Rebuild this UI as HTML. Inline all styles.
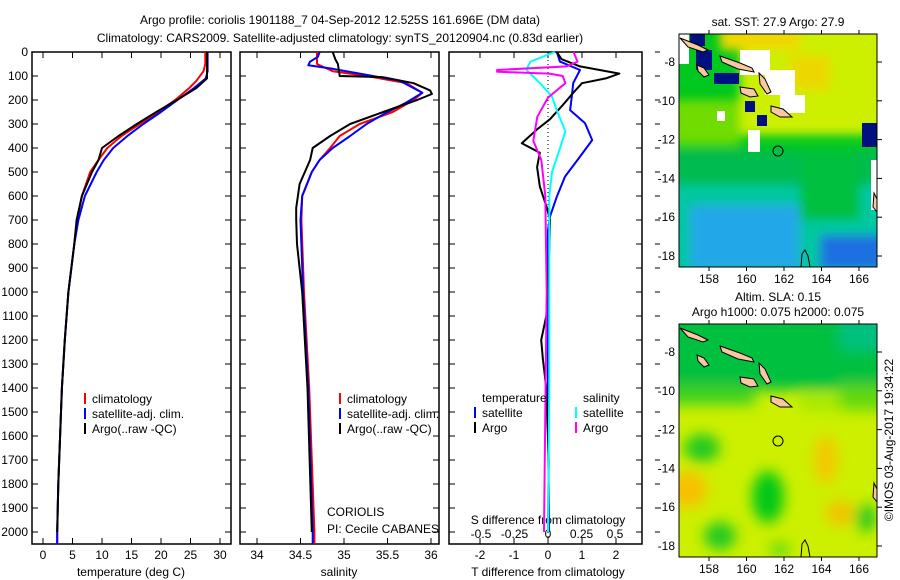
<!DOCTYPE html>
<html><head><meta charset="utf-8"><style>
html,body{margin:0;padding:0;background:#fff}
svg{display:block}
text{font-family:"Liberation Sans",sans-serif;font-size:12px;fill:#000}
</style></head><body>
<svg id="fig" width="900" height="580" viewBox="0 0 900 580">
<defs>
<filter id="blur" x="-20%" y="-20%" width="140%" height="140%"><feGaussianBlur stdDeviation="7"/></filter>
<filter id="blur2" x="-20%" y="-20%" width="140%" height="140%"><feGaussianBlur stdDeviation="5"/></filter>
<clipPath id="cm1"><rect x="679" y="34" width="198" height="233"/></clipPath>
<clipPath id="cm2"><rect x="679" y="324" width="198" height="233"/></clipPath>
</defs>
<text x="340" y="24" text-anchor="middle">Argo profile: coriolis 1901188_7 04-Sep-2012 12.525S 161.696E (DM data)</text>
<text x="340" y="42" text-anchor="middle">Climatology: CARS2009. Satellite-adjusted climatology: synTS_20120904.nc (0.83d earlier)</text>

<g id="p1"></g>
<g id="p2"></g>
<g id="p3"></g>

<!-- top map -->
<g>
<text x="778" y="26" text-anchor="middle">sat. SST: 27.9 Argo: 27.9</text>
<g clip-path="url(#cm1)">
<rect x="679" y="34" width="198" height="233" fill="#00c81e"/>
<g filter="url(#blur2)">
<rect x="740" y="20" width="160" height="115" fill="#ccf000"/>
<rect x="720" y="28" width="80" height="22" fill="#f0d800"/>
<rect x="790" y="55" width="40" height="35" fill="#ecd800"/>
<rect x="670" y="100" width="70" height="45" fill="#70dc00"/>
<rect x="670" y="150" width="230" height="40" fill="#00bb50"/>
<rect x="670" y="185" width="230" height="90" fill="#00c8a0"/>
<rect x="690" y="205" width="110" height="65" fill="#20a8e8"/>
<rect x="820" y="235" width="70" height="35" fill="#1e70e0"/>
<rect x="800" y="150" width="60" height="70" fill="#00c040"/>
</g>
<rect x="690" y="34" width="15" height="12" fill="#001080"/>
<rect x="696" y="50" width="16" height="20" fill="#001080"/>
<rect x="714" y="73" width="25" height="11" fill="#001080"/>
<rect x="745" y="101" width="10" height="11" fill="#001080"/>
<rect x="757" y="115" width="10" height="11" fill="#001080"/>
<rect x="862" y="123" width="15" height="24" fill="#001080"/>
<rect x="679" y="34" width="10" height="30" fill="#fff"/>
<rect x="740" y="50" width="30" height="25" fill="#fff"/>
<rect x="765" y="70" width="30" height="25" fill="#fff"/>
<rect x="780" y="95" width="25" height="18" fill="#fff"/>
<rect x="748" y="130" width="12" height="22" fill="#fff"/>
<rect x="871" y="160" width="6" height="50" fill="#fff"/>
<rect x="717" y="111" width="8" height="10" fill="#fff"/>
</g>
<g id="isl1"></g>
<circle cx="778" cy="151" r="5" fill="none" stroke="#000"/>
<rect x="679" y="34" width="198" height="233" fill="none" stroke="#000"/>
<g id="mt1"></g>
</g>

<!-- bottom map -->
<g>
<text x="778" y="301" text-anchor="middle">Altim. SLA: 0.15</text>
<text x="778" y="316" text-anchor="middle">Argo h1000: 0.075 h2000: 0.075</text>
<g clip-path="url(#cm2)">
<rect x="679" y="324" width="198" height="233" fill="#ccf000"/>
<g filter="url(#blur)">
<rect x="665" y="305" width="250" height="85" fill="#00c040"/>
<rect x="665" y="385" width="90" height="20" fill="#40d020"/>
<rect x="840" y="385" width="60" height="25" fill="#60d810"/>
<rect x="800" y="395" width="40" height="15" fill="#a0e800"/>
<rect x="840" y="315" width="50" height="35" fill="#00c080"/>
<ellipse cx="702" cy="448" rx="18" ry="14" fill="#20c820"/>
<ellipse cx="768" cy="497" rx="16" ry="26" fill="#00c818"/>
<ellipse cx="688" cy="490" rx="20" ry="18" fill="#f8c000"/>
<ellipse cx="826" cy="460" rx="12" ry="24" fill="#f4c800"/>
<ellipse cx="840" cy="513" rx="14" ry="12" fill="#f4c000"/>
<ellipse cx="720" cy="536" rx="16" ry="14" fill="#20c820"/>
<ellipse cx="866" cy="518" rx="10" ry="14" fill="#20c820"/>
<ellipse cx="780" cy="550" rx="10" ry="8" fill="#60d810"/>
</g>
</g>
<g id="isl2"></g>
<circle cx="778" cy="441" r="5" fill="none" stroke="#000"/>
<rect x="679" y="324" width="198" height="233" fill="none" stroke="#000"/>
<g id="mt2"></g>
</g>
<text transform="translate(893,440) rotate(-90)" text-anchor="middle">©IMOS 03-Aug-2017 19:34:22</text>
</svg>
<script>
// ---------- data ----------
const depthTicks=[0,100,200,300,400,500,600,700,800,900,1000,1100,1200,1300,1400,1500,1600,1700,1800,1900,2000];
const tempTicks=[0,5,10,15,20,25,30];
const salTicks=[34,34.5,35,35.5,36];
const tdiffTicks=[-2,-1,0,1,2];
const sdiffTicks=[-0.5,-0.25,0,0.25,0.5];
const sdiffLabels=["-0.5","-0.25","0","0.25","0.5"];

const tClimD=[0,50,80,120,150,200,250,300,350,400,450,500,600,700,800,1000,1200,1400,1600,1800,2000,2050];
const tClimV=[27.5,27.5,27.2,26,24.8,22.4,19.5,16.4,13.3,10.9,9.4,8.0,6.6,5.8,5.3,4.3,3.7,3.2,2.9,2.6,2.4,2.4];
const tSatD=[0,80,110,150,200,250,300,350,400,450,500,600,700,800,1000,1200,1400,1600,1800,2000,2050];
const tSatV=[27.9,27.9,27.6,25.6,22.8,20,17,14.3,11.9,10.3,9.1,7.1,6.0,5.3,4.3,3.7,3.2,2.9,2.6,2.4,2.4];
const tArgoD=[0,110,150,200,250,300,350,400,450,500,600,700,800,1000,1200,1400,1600,1800,2000];
const tArgoV=[27.8,27.8,26,22.7,19.2,15.9,12.8,10.0,9.4,8.3,6.6,5.7,5.3,4.3,3.7,3.2,2.9,2.6,2.4];

const sClimD=[0,50,80,100,130,170,200,250,300,350,400,450,500,600,700,1000,1400,2000,2050];
const sClimV=[34.69,34.69,34.87,35.26,35.72,35.9,35.8,35.56,35.18,34.95,34.84,34.72,34.63,34.52,34.51,34.54,34.6,34.66,34.66];
const sSatD=[0,20,40,55,70,90,120,170,210,260,300,350,400,450,500,600,700,1000,1400,2000,2050];
const sSatV=[34.72,34.7,34.61,34.59,34.87,35.18,35.64,35.9,35.72,35.45,35.26,35.07,34.87,34.72,34.63,34.52,34.5,34.53,34.59,34.64,34.64];
const sArgoD=[0,30,50,100,105,130,160,175,200,250,300,350,400,450,550,650,700,800,1000,1400,2000];
const sArgoV=[34.87,34.9,34.93,34.95,35.45,35.8,35.99,36.01,35.84,35.45,35.07,34.84,34.64,34.61,34.49,34.45,34.45,34.46,34.52,34.58,34.63];

const dTSatD=[0,40,75,130,186,242,297,367,436,519,603,686,742,1000,1500,2000];
const dTSatV=[0.26,0.35,0.94,0.74,0.7,0.65,1.09,1.3,0.94,0.5,0.26,0.06,0.0,0.0,0.0,0.03];
const dTArgoD=[0,30,60,90,110,130,170,220,280,320,380,420,480,560,650,700,900,1100,1200,1280,1400,1700,2000];
const dTArgoV=[0.26,0.4,0.94,2.1,1.7,1.0,0.74,0.44,0.06,-0.3,-0.77,-0.24,-0.32,-0.24,-0.03,0.06,0.02,-0.05,-0.2,-0.15,-0.05,0.02,0.0];
const dSSatD=[0,40,60,75,130,186,250,330,400,500,600,900,1400,2000];
const dSSatV=[0.05,-0.13,-0.15,-0.16,-0.06,0.03,0.07,0.13,0.09,0.03,0.01,0.01,0.01,0.0];
const dSArgoD=[0,40,60,75,82,90,100,130,190,270,370,450,600,1000,1500,2000];
const dSArgoV=[0.19,0.22,0.14,-0.38,-0.38,0.01,0.11,0.13,0.0,-0.08,-0.11,-0.05,-0.02,-0.01,-0.02,-0.03];

// ---------- helpers ----------
const NS="http://www.w3.org/2000/svg";
const TOP=52, BOT=544, PXM=0.24;
const yD=d=>TOP+d*PXM;
function mk(parent,tag,attrs){const e=document.createElementNS(NS,tag);for(const k in attrs)e.setAttribute(k,attrs[k]);parent.appendChild(e);return e;}
function txt(parent,x,y,s,anchor){const t=mk(parent,'text',{x:x,y:y,'text-anchor':anchor||'middle'});t.textContent=s;return t;}
function line(parent,D,V,xf,color,w,name){
  const pts=D.map((d,i)=>xf(V[i]).toFixed(1)+','+yD(d).toFixed(1)).join(' ');
  const p=mk(parent,'polyline',{points:pts,fill:'none',stroke:color,'stroke-width':w||2,'stroke-linejoin':'round'});
  
  
}
function frame(g,x0,x1,name){
  const r=mk(g,'rect',{x:x0,y:TOP,width:x1-x0,height:BOT-TOP,fill:'none',stroke:'#000','stroke-width':1.5});
  
  
}
function xticks(g,vals,labels,xf,y){
  vals.forEach((v,i)=>{const x=xf(v);
    mk(g,'line',{x1:x,x2:x,y1:TOP,y2:TOP+6,stroke:'#000'});
    mk(g,'line',{x1:x,x2:x,y1:BOT,y2:BOT-6,stroke:'#000'});
    const t=txt(g,x,y,labels[i]);
    
    });
}
function yticks(g,x0,x1){
  depthTicks.forEach(d=>{mk(g,'line',{x1:x0,x2:x0+6,y1:yD(d),y2:yD(d),stroke:'#000'});
    mk(g,'line',{x1:x1,x2:x1-6,y1:yD(d),y2:yD(d),stroke:'#000'});});
}
function legend(g,x,y,items,name){
  items.forEach((it,i)=>{const yy=y+i*15;
    mk(g,'line',{x1:x,x2:x,y1:yy-10,y2:yy+1,stroke:it[1],'stroke-width':2});
    const t=txt(g,x+7,yy,it[0],'start');
    
    });
}

// panel 1: temperature
const p1=document.getElementById('p1');
const xT=v=>43+v*5.9;
frame(p1,32,231,'temperature-axes');
yticks(p1,32,231);
depthTicks.forEach(d=>{const t=txt(p1,28,yD(d)+4,String(d),'end');
  
  });
xticks(p1,tempTicks,tempTicks.map(String),xT,559);
const xl1=txt(p1,131,576,'temperature (deg C)');


line(p1,tClimD,tClimV,xT,'#f00',2,'temp-climatology-line');
line(p1,tSatD,tSatV,xT,'#00f',2,'temp-satellite-line');
line(p1,tArgoD,tArgoV,xT,'#000',2,'temp-argo-line');
legend(p1,85,403,[['climatology','#f00'],['satellite-adj. clim.','#00f'],['Argo(..raw -QC)','#000']],'temp-legend');

// panel 2: salinity
const p2=document.getElementById('p2');
const xS=v=>257+(v-34)*87;
frame(p2,240,439,'salinity-axes');
yticks(p2,240,439);
xticks(p2,salTicks,salTicks.map(String),xS,559);
const xl2=txt(p2,339,576,'salinity');


line(p2,sClimD,sClimV,xS,'#f00',2,'sal-climatology-line');
line(p2,sSatD,sSatV,xS,'#00f',2,'sal-satellite-line');
line(p2,sArgoD,sArgoV,xS,'#000',2,'sal-argo-line');
legend(p2,340,403,[['climatology','#f00'],['satellite-adj. clim.','#00f'],['Argo(..raw -QC)','#000']],'sal-legend');
const c1=txt(p2,327,516,'CORIOLIS','start');
const c2=txt(p2,327,533,'PI: Cecile CABANES','start');

// panel 3: differences
const p3=document.getElementById('p3');
const xTd=v=>548+v*34;
const xSd=v=>548+v*134;
frame(p3,449,642,'difference-axes');
yticks(p3,449,642);
xticks(p3,tdiffTicks,tdiffTicks.map(String),xTd,559);
sdiffTicks.forEach((v,i)=>{const t=txt(p3,xSd(v),538,sdiffLabels[i]);
  
  });
const s1=txt(p3,548,524,'S difference from climatology');
const s2=txt(p3,548,576,'T difference from climatology');
const zl=mk(p3,'line',{x1:548,x2:548,y1:TOP,y2:BOT,stroke:'#000','stroke-dasharray':'1,3'});


line(p3,dTSatD,dTSatV,xTd,'#00f',2,'tdiff-satellite-line');
line(p3,dTArgoD,dTArgoV,xTd,'#000',2,'tdiff-argo-line');
line(p3,dSSatD,dSSatV,xSd,'#0ff',2,'sdiff-satellite-line');
line(p3,dSArgoD,dSArgoV,xSd,'#f0f',2,'sdiff-argo-line');
const lh1=txt(p3,482,402,'temperature','start');
const lh2=txt(p3,583,402,'salinity','start');
legend(p3,475,417,[['satellite','#00f'],['Argo','#000']],'tdiff-legend');
legend(p3,576,417,[['satellite','#0ff'],['Argo','#f0f']],'sdiff-legend');
depthTicks.forEach(d=>{mk(p3,'line',{x1:655,x2:660,y1:yD(d),y2:yD(d),stroke:'#000'});});

// map ticks & islands
const mapLon=[158,160,162,164,166], mapLat=[-8,-10,-12,-14,-16,-18];
function mapTicks(id,y0,y1,lat8){
  const g=document.getElementById(id);
  const xL=v=>709+(v-158)*18.75;
  const yL=v=>lat8+(-8-v)*19.4;
  mapLon.forEach(v=>{mk(g,'line',{x1:xL(v),x2:xL(v),y1:y0,y2:y0-4,stroke:'#000'});
    mk(g,'line',{x1:xL(v),x2:xL(v),y1:y1,y2:y1+4,stroke:'#000'});
    const t=txt(g,xL(v),y1+16,String(v));});
  mapLat.forEach(v=>{mk(g,'line',{x1:877,x2:882,y1:yL(v),y2:yL(v),stroke:'#000'});
    const t=txt(g,675,yL(v)+4,String(v),'end');});
}
mapTicks('mt1',34,267,62);
mapTicks('mt2',324,557,352);
function islands(id,dy){
  const g=document.getElementById(id);
  const shapes=[
    [[680,38],[698,45],[708,50],[703,52],[688,47]],
    [[720,56],[740,63],[752,68],[754,72],[738,69],[722,62]],
    [[697,65],[704,68],[709,75],[704,77],[698,71]],
    [[740,87],[754,89],[758,96],[750,97],[741,93]],
    [[759,73],[765,79],[771,92],[767,94],[760,84]],
    [[771,106],[783,109],[792,117],[780,117],[771,112]],
    [[874,193],[877,199],[877,212],[873,207]]];
  shapes.forEach(s=>{const p=mk(g,'polygon',{points:s.map(q=>q[0]+','+(q[1]+dy)).join(' '),fill:'#f8c8a0',stroke:'#000','stroke-width':1});
    
    });
  const nc=mk(g,'path',{d:`M801 ${267+dy} L802 ${254+dy} L805 ${250+dy} L808 ${256+dy} L810 ${267+dy}`,fill:'none',stroke:'#000'});
  
  
}
islands('isl1',0);
islands('isl2',290);
</script>
</body></html>
